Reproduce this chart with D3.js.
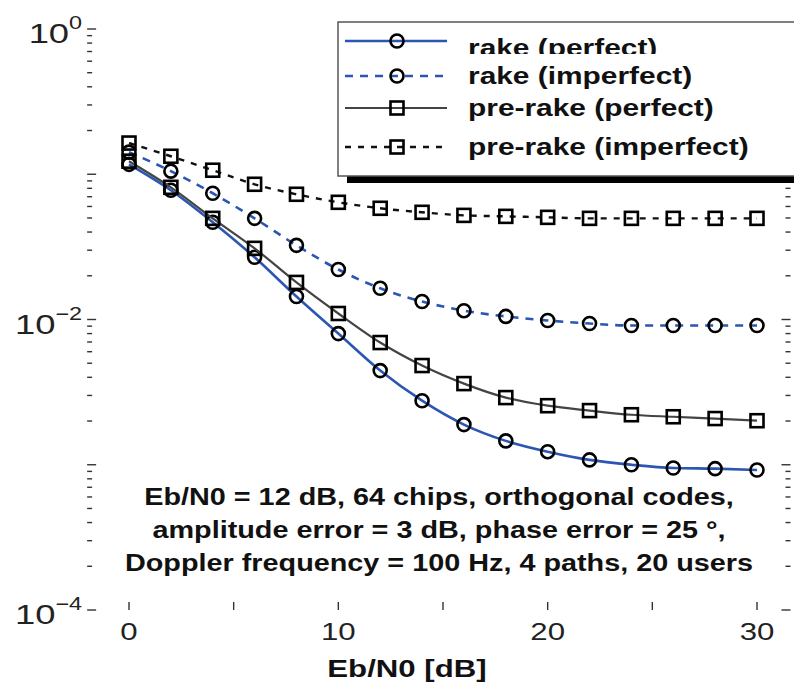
<!DOCTYPE html>
<html>
<head>
<meta charset="utf-8">
<script src="https://cdn.jsdelivr.net/npm/d3@7"></script>
<style>
  body { margin: 0; background: #fff; }
  svg { display: block; font-family: "Liberation Sans", Arial, sans-serif; }
</style>
</head>
<body>
<div id="chart"></div>
<script>
// data
var ebn0 = [0, 2, 4, 6, 8, 10, 12, 14, 16, 18, 20, 22, 24, 26, 28, 30]
var rakePerfect = [0.117, 0.0776, 0.0467, 0.0268, 0.0144, 0.0080, 0.00445, 0.00276, 0.00189, 0.00146, 0.00123, 0.00108, 0.00100, 0.00095, 0.00094, 0.00092]
var rakeImperfect = [0.142, 0.105, 0.074, 0.0497, 0.0324, 0.0221, 0.0164, 0.0133, 0.0115, 0.0105, 0.00984, 0.00938, 0.00909, 0.00909, 0.00909, 0.00909]
var preRakePerfect = [0.123, 0.0813, 0.0497, 0.0309, 0.018, 0.011, 0.00694, 0.00482, 0.00362, 0.0029, 0.00255, 0.00236, 0.00221, 0.00214, 0.00208, 0.00201]
var preRakeImperfect = [0.164, 0.133, 0.1066, 0.0853, 0.0728, 0.0641, 0.0583, 0.0547, 0.0521, 0.0513, 0.0505, 0.0497, 0.0497, 0.0497, 0.0497, 0.0497]
var seriesNames = ['rake (perfect)', 'rake (imperfect)', 'pre-rake (perfect)', 'pre-rake (imperfect)']
var xTickLabels = [0, 10, 20, 30]
var yTickLabels = [1, 1e-2, 1e-4]
var notes = [
  'Eb/N0 = 12 dB, 64 chips, orthogonal codes,',
  'amplitude error = 3 dB, phase error = 25 \u00b0,',
  'Doppler frequency = 100 Hz, 4 paths, 20 users'
]
var xTitle = 'Eb/N0 [dB]'

var width = 794, height = 686
var stretch = 1.3   // the source picture is widened

var svg = d3.select('#chart').append('svg')
  .attr('width', width)
  .attr('height', height)

var x = d3.scaleLinear().domain([0, 30]).range([129, 757])
var y = d3.scaleLog().domain([1e-4, 1]).range([610, 29])
var left = x(-2), right = x(31.6), top = y(1), bottom = y(1e-4)

var styles = [
  { color: '#2b56b2', dash: null, width: 2.6, marker: 'circle' },
  { color: '#2b56b2', dash: '8,7', width: 2.6, marker: 'circle' },
  { color: '#444', dash: null, width: 2.2, marker: 'square' },
  { color: '#111', dash: '6,7', width: 2.4, marker: 'square' }
]
var allSeries = [rakePerfect, rakeImperfect, preRakePerfect, preRakeImperfect]

//frame
svg.append('rect')
  .attr('x', left).attr('y', top)
  .attr('width', right - left).attr('height', bottom - top)
  .attr('fill', 'none').attr('stroke', '#333').attr('stroke-width', 1.6)

var ticks = svg.append('g').attr('stroke', '#333').attr('stroke-width', 1.4)
// x ticks every 5, bottom and top, pointing in
d3.range(0, 31, 5).forEach(function (v) {
  ticks.append('line').attr('x1', x(v)).attr('x2', x(v)).attr('y1', bottom).attr('y2', bottom - 8)
  ticks.append('line').attr('x1', x(v)).attr('x2', x(v)).attr('y1', top).attr('y2', top + 8)
})
// log ticks left and right
y.ticks().forEach(function (v) {
  var major = Math.abs(Math.log10(v) - Math.round(Math.log10(v))) < 1e-9
  var len = major ? 9 : 5
  ticks.append('line').attr('x1', left).attr('x2', left + len).attr('y1', y(v)).attr('y2', y(v))
  ticks.append('line').attr('x1', right).attr('x2', right - len).attr('y1', y(v)).attr('y2', y(v))
})

// tick labels
svg.append('g').selectAll('text')
  .data(xTickLabels)
  .enter().append('text')
  .attr('transform', function (d) { return 'translate(' + x(d) + ',640) scale(' + stretch + ',1)' })
  .attr('text-anchor', 'middle')
  .attr('font-size', 24)
  .attr('fill', '#222')
  .text(function (d) { return d })

var yl = svg.append('g').selectAll('text')
  .data(yTickLabels)
  .enter().append('text')
  .attr('transform', function (d) { return 'translate(' + (left - 5) + ',' + (y(d) + 14) + ') scale(' + stretch + ',1)' })
  .attr('text-anchor', 'end')
  .attr('font-size', 28)
  .attr('fill', '#222')
yl.append('tspan').text('10')
yl.append('tspan')
  .attr('font-size', 18)
  .attr('dy', -14)
  .text(function (d) { var e = Math.round(Math.log10(d)); return e === 0 ? '0' : '\u2212' + (-e) })

// curves
var line = d3.line()
  .x(function (d, i) { return x(ebn0[i]) })
  .y(function (d) { return y(d) })
  .curve(d3.curveMonotoneX)

function drawMarker(g, type, cx, cy) {
  if (type === 'circle') {
    g.append('circle').attr('cx', cx).attr('cy', cy).attr('r', 6.5)
      .attr('fill', 'none').attr('stroke', '#000').attr('stroke-width', 2.6)
  } else {
    g.append('rect').attr('x', cx - 6.5).attr('y', cy - 6.5).attr('width', 13).attr('height', 13)
      .attr('fill', 'none').attr('stroke', '#000').attr('stroke-width', 2.6)
  }
}

allSeries.forEach(function (vals, k) {
  var s = styles[k]
  var g = svg.append('g')
  g.append('path')
    .datum(vals)
    .attr('d', line)
    .attr('fill', 'none')
    .attr('stroke', s.color)
    .attr('stroke-width', s.width)
    .attr('stroke-dasharray', s.dash)
  vals.forEach(function (v, i) { drawMarker(g, s.marker, x(ebn0[i]), y(v)) })
})

// legend with shadow
var lg = svg.append('g')
lg.append('rect').attr('x', 347).attr('y', 29).attr('width', 480).attr('height', 154).attr('fill', '#000')
lg.append('rect').attr('x', 338).attr('y', 22).attr('width', 480).attr('height', 154)
  .attr('fill', '#fff').attr('stroke', '#555').attr('stroke-width', 1.5)

// first row text is cut at the bottom in the source
svg.append('clipPath').attr('id', 'row1clip')
  .append('rect').attr('x', 450).attr('y', 22).attr('width', 344).attr('height', 32)

var rowY = [41, 76, 108, 147]
var textY = [56, 84, 116, 155]
seriesNames.forEach(function (name, k) {
  var s = styles[k]
  lg.append('line')
    .attr('x1', 345).attr('x2', 447).attr('y1', rowY[k]).attr('y2', rowY[k])
    .attr('stroke', s.color).attr('stroke-width', s.width)
    .attr('stroke-dasharray', s.dash)
  drawMarker(lg, s.marker, 397, rowY[k])
  lg.append('g')
    .attr('clip-path', k === 0 ? 'url(#row1clip)' : null)
    .append('text')
    .attr('transform', 'translate(468,' + textY[k] + ') scale(' + stretch + ',1)')
    .attr('font-size', 23)
    .attr('font-weight', 'bold')
    .attr('fill', '#111')
    .text(name)
})

// annotation
svg.append('g').selectAll('text')
  .data(notes)
  .enter().append('text')
  .attr('transform', function (d, i) { return 'translate(439,' + (505 + i * 33) + ') scale(1.2,1)' })
  .attr('text-anchor', 'middle')
  .attr('font-size', 24)
  .attr('font-weight', 'bold')
  .attr('fill', '#111')
  .text(function (d) { return d })

// x title
svg.append('text')
  .attr('transform', 'translate(407,677) scale(' + stretch + ',1)')
  .attr('text-anchor', 'middle')
  .attr('font-size', 24)
  .attr('font-weight', 'bold')
  .attr('fill', '#111')
  .text(xTitle)
</script>
</body>
</html>
